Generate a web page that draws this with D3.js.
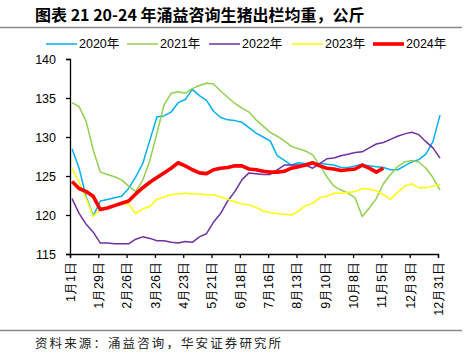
<!DOCTYPE html>
<html>
<head>
<meta charset="utf-8">
<script src="https://cdn.jsdelivr.net/npm/d3@7"></script>
<style>
  body { margin: 0; background: #fff; }
  svg { display: block; font-family: "Liberation Sans", "Noto Sans CJK SC", sans-serif; }
</style>
</head>
<body>
<svg id="chart"></svg>
<script>
// Constants
const width = 474, height = 363;
const margin = { left: 70, right: 36, top: 59, bottom: 109 };

// Data (weekly values)
const years = ["2020年", "2021年", "2022年", "2023年", "2024年"];
const colors = ["#00B0F0", "#92D050", "#7030A0", "#FFFF00", "#FF0000"];
const tickLabels = ["1月1日", "1月29日", "2月26日", "3月26日", "4月23日", "5月21日", "6月18日",
    "7月16日", "8月13日", "9月10日", "10月8日", "11月5日", "12月3日", "12月31日"];

const s2020 = [128.5, 126.0, 122.3, 119.9, 121.8, 122.0, 122.2, 122.4, 123.4, 124.9, 126.6, 129.6, 132.6,
    132.7, 133.2, 134.4, 134.8, 136.1, 135.3, 134.7, 133.3, 132.5, 132.2, 132.1, 131.9, 131.2, 130.5,
    130.0, 129.5, 127.6, 127.0, 126.4, 126.7, 126.6, 126.6, 126.6, 126.5, 126.4, 126.1, 126.1, 126.3,
    126.5, 126.3, 126.2, 126.1, 125.8, 125.8, 126.3, 126.8, 127.1, 127.8, 129.4, 132.8];
const s2021 = [134.4, 133.9, 132.0, 128.3, 125.5, 125.2, 124.9, 124.5, 123.7, 123.0, 124.5, 127.0, 130.5,
    134.1, 135.6, 135.8, 135.6, 136.2, 136.6, 136.9, 136.8, 135.9, 135.1, 134.3, 133.7, 133.2, 132.2,
    131.4, 130.6, 130.1, 129.5, 128.8, 128.5, 128.2, 127.7, 126.4, 124.9, 123.7, 123.2, 122.8, 122.2,
    119.8, 120.9, 122.1, 124.0, 125.2, 126.2, 126.8, 127.0, 126.8, 126.0, 124.8, 123.2];
const s2022 = [122.1, 120.2, 118.8, 117.8, 116.4, 116.4, 116.3, 116.3, 116.3, 116.9, 117.2, 117.0, 116.7,
    116.7, 116.5, 116.4, 116.6, 116.5, 117.2, 117.6, 119.1, 120.2, 121.8, 123.0, 124.5, 125.4, 125.3,
    125.2, 125.2, 125.8, 126.4, 126.4, 126.4, 126.4, 126.0, 126.6, 127.2, 127.3, 127.6, 127.8, 128.0,
    128.1, 128.6, 129.1, 129.3, 129.7, 130.1, 130.4, 130.6, 130.3, 129.4, 128.6, 127.3];
const s2023 = [126.0, 124.2, 122.1, 119.8, 120.8, 121.0, 121.2, 121.4, 121.4, 120.2, 120.8, 121.1, 122.0,
    122.3, 122.6, 122.7, 122.8, 122.7, 122.7, 122.6, 122.6, 122.3, 122.0, 121.7, 121.4, 121.3, 121.0,
    120.5, 120.3, 120.2, 120.1, 120.0, 120.5, 121.2, 121.5, 122.2, 122.4, 122.8, 122.8, 122.9, 123.0,
    123.4, 123.3, 123.1, 122.6, 122.0, 122.9, 123.7, 124.0, 123.5, 123.5, 123.7, 123.9];
const s2024 = [124.3, 123.4, 123.0, 122.4, 120.7, 120.9, 121.2, 121.5, 121.8, 122.7, 123.5, 124.2, 124.8,
    125.4, 126.0, 126.7, 126.3, 125.8, 125.4, 125.3, 125.8, 126.0, 126.1, 126.3, 126.3, 125.9, 125.8,
    125.6, 125.5, 125.5, 125.6, 126.0, 126.2, 126.4, 126.7, 126.3, 126.0, 125.9, 125.7, 125.8, 125.9,
    126.4, 126.0, 125.5, 126.0];

const seriesList = [s2020, s2021, s2022, s2023, s2024];

const svg = d3.select("#chart")
    .attr("width", width)
    .attr("height", height);

// Scales: x is day of year, one point per week
const x = d3.scaleLinear().domain([0, 364]).range([margin.left, width - margin.right]);
const y = d3.scaleLinear().domain([115, 140]).range([height - margin.bottom, margin.top]);
const dayOf = i => 2 + 7 * i;

// Title and rules
svg.append("text")
    .attr("x", 35).attr("y", 21)
    .attr("font-family", "'Noto Sans CJK SC', sans-serif")
    .attr("font-size", 16).attr("font-weight", "bold")
    .attr("fill", "#000")
    .text("图表 21 20-24 年涌益咨询生猪出栏均重，公斤");

svg.append("line")
    .attr("x1", 0).attr("x2", 462).attr("y1", 27.5).attr("y2", 27.5)
    .attr("stroke", "#888").attr("stroke-width", 1.5);

svg.append("line")
    .attr("x1", 0).attr("x2", 462).attr("y1", 330.5).attr("y2", 330.5)
    .attr("stroke", "#888").attr("stroke-width", 1.5);

svg.append("text")
    .attr("x", 35).attr("y", 348)
    .attr("font-family", "'Noto Sans CJK SC', sans-serif")
    .attr("font-size", 12.5)
    .attr("letter-spacing", 2.1)
    .attr("fill", "#222")
    .text("资料来源：涌益咨询，华安证券研究所");

// Axes
const yAxis = svg.append("g")
    .attr("transform", `translate(${margin.left},0)`)
    .call(d3.axisLeft(y).tickValues([115, 120, 125, 130, 135, 140]).tickSizeOuter(0).tickSize(4).tickPadding(10));

yAxis.selectAll("text").attr("font-size", 12.5).attr("fill", "#000");

const xAxis = svg.append("g")
    .attr("transform", `translate(0,${height - margin.bottom})`)
    .call(d3.axisBottom(x)
        .tickValues(d3.range(0, 365, 28))
        .tickFormat((d, i) => tickLabels[i])
        .tickSizeOuter(0).tickSize(4));

xAxis.selectAll("text")
    .attr("font-size", 12.5)
    .attr("fill", "#000")
    .attr("text-anchor", "end")
    .attr("transform", "rotate(-90)")
    .attr("x", -8).attr("y", 0).attr("dy", "0.35em");

svg.selectAll(".domain, .tick line").attr("stroke", "#000").attr("stroke-width", 1.3);

// Lines
const line = d3.line()
    .x((d, i) => x(dayOf(i)))
    .y(d => y(d));

svg.append("g")
    .selectAll("path")
    .data(seriesList)
    .join("path")
    .attr("d", line)
    .attr("fill", "none")
    .attr("stroke", (d, i) => colors[i])
    .attr("stroke-width", (d, i) => i === 4 ? 3.6 : 1.5)
    .attr("stroke-linejoin", "round");

// Legend
const legendX = [46, 127, 209, 292, 373];
const legend = svg.append("g")
    .selectAll("g")
    .data(years)
    .join("g")
    .attr("transform", (d, i) => `translate(${legendX[i]},44)`);

legend.append("line")
    .attr("x1", 0).attr("x2", 31)
    .attr("stroke", (d, i) => colors[i])
    .attr("stroke-width", (d, i) => i === 4 ? 3.6 : 1.5);

legend.append("text")
    .attr("x", 33).attr("dy", "0.35em")
    .attr("font-size", 12.5)
    .attr("fill", "#000")
    .text(d => d);
</script>
</body>
</html>
